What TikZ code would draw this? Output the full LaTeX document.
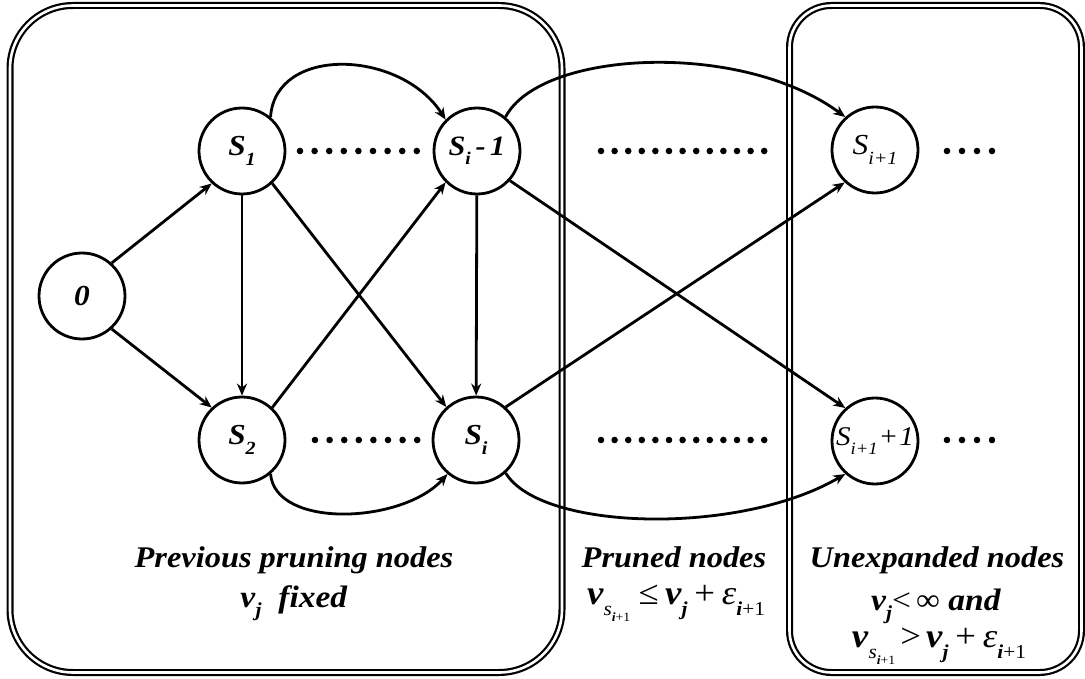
\documentclass[tikz,border=0pt]{standalone}
\usepackage{fontspec}
\setmainfont{Liberation Serif}[FakeStretch=1.08]
\usepackage{graphicx}
\usetikzlibrary{arrows.meta}

% lowered, reduced subscript
\newcommand\lo[1]{\raisebox{-0.32em}{\scalebox{0.64}{#1}}}
\newcommand\lf[1]{\raisebox{-0.34em}{\scalebox{0.58}{#1}}}
\newcommand\bi[1]{\textbf{\textit{#1}}}

\tikzset{
  state/.style={circle, draw, line width=2.8pt, minimum size=86pt, inner sep=0pt,
                font=\fontsize{29}{32}\selectfont\bfseries\itshape},
  edge/.style={line width=2.8pt, -{Stealth[length=12pt,width=10pt]}},
  frame/.style={draw, double, line width=2.2pt, double distance=2.6pt},
  caption/.style={anchor=base, font=\fontsize{30}{36}\selectfont\bfseries\itshape},
  formula/.style={anchor=base, font=\fontsize{34}{38}\selectfont}
}

\begin{document}
\begin{tikzpicture}[x=1pt, y=-1pt]
\useasboundingbox (0,0) rectangle (1085,679);

% region frames
\draw[frame, rounded corners=63pt] (10,5.5) rectangle (562,672.5);
\draw[frame, rounded corners=42pt] (789.5,5.5) rectangle (1081.5,672.5);

% search nodes
\node[state] (n0)   at (82,296)  {0};
\node[state] (S1)   at (242,151) {S\lo{1}};
\node[state] (S2)   at (242,440) {S\lo{2}};
\node[state, font=\fontsize{28}{32}\selectfont\bfseries\itshape] (Sim1) at (477,151) {S\lo{\textit{i}}\,-\,1};
\node[state] (Si)   at (476,440) {S\lo{\textit{i}}};
\node[state, font=\fontsize{29}{32}\selectfont\itshape] (Sip1) at (875,150) {S\lo{i+1}};
\node[state, font=\fontsize{27}{30}\selectfont\itshape] (Sip1p1) at (875,441) {S\lo{i+1}\kern1pt+\kern1pt1};

% rows of dots
\foreach \k in {0,...,8}  \fill ({300+\k*14.6},151) circle (3.3pt);
\foreach \k in {0,...,7}  \fill ({315+\k*14.6},440) circle (3.3pt);
\foreach \k in {0,...,12} {
  \fill ({601+\k*13.6},151) circle (3.3pt);
  \fill ({601+\k*13.6},440) circle (3.3pt);
}
\foreach \k in {0,...,3} {
  \fill ({947+\k*15},151) circle (3.3pt);
  \fill ({947+\k*15},440) circle (3.3pt);
}

% straight connectors
\draw[edge] (n0.48)  -- (S1.-133);
\draw[edge] (n0.-48) -- (S2.133);
\draw[edge] (S1) -- (S2);
\draw[edge] (S1.-47) -- (Si.132);
\draw[edge] (S2.47)  -- (Sim1.-135);
\draw[edge] (Sim1) -- (Si);
\draw[edge] (Sim1.-42) -- (Sip1p1.132);
\draw[edge] (Si.48)    -- (Sip1.-133);

% curved connectors
\draw[edge] (S1.50)  .. controls +(5,-72) and +(-45,-70) .. (Sim1.135);
\draw[edge] (S2.-50) .. controls +(5,55)  and +(-45,50)  .. (Si.-130);
\draw[edge] (Sim1.50) .. controls +(35,-67) and +(-104,-77) .. (Sip1.132);
\draw[edge] (Si.-48)  .. controls +(35,58)  and +(-106,62)  .. (Sip1p1.-132);

% region captions
\node[caption] (capA) at (294,567) {Previous pruning nodes};
\node[formula, font=\fontsize{31}{36}\selectfont] (fixA) at (294,607) {\bi{v}\lo{\bi{j}}\ \ \bi{fixed}};

\node[caption] (capB) at (674,567) {Pruned nodes};
\node[formula] (forB) at (676,604)
  {\bi{v}\lf{\textit{s}\lo{\bi{i}+1}}\hspace{0.25em}≤\hspace{0.18em}\bi{v}\lf{\bi{j}}\hspace{0.2em}+\hspace{0.2em}\textit{ε}\lf{\bi{i}+1}};

\node[caption] (capC) at (937,567) {Unexpanded nodes};
\node[formula, font=\fontsize{31}{36}\selectfont] (forC1) at (936,610) {\bi{v}\lo{\bi{j}}<\,∞\ \bi{and}};
\node[formula] (forC2) at (939,647)
  {\bi{v}\lf{\textit{s}\lo{\bi{i}+1}}\hspace{0.15em}>\hspace{0.15em}\bi{v}\lf{\bi{j}}\hspace{0.2em}+\hspace{0.2em}\textit{ε}\lf{\bi{i}+1}};
\end{tikzpicture}
\end{document}
